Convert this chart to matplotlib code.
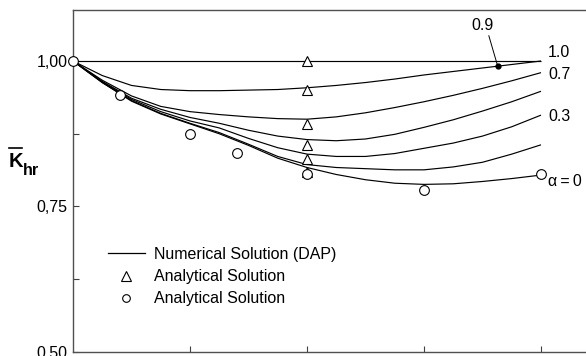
import numpy as np
import matplotlib
matplotlib.use("Agg")
import matplotlib.pyplot as plt
from matplotlib.lines import Line2D

plt.rcParams['font.family'] = ['Liberation Sans', 'DejaVu Sans']
plt.rcParams['font.size'] = 11.5

# Numerical solution (DAP): normalised K_hr along the abscissa for each alpha
x = [0.0, 0.25, 0.5, 0.75, 1.0, 1.25, 1.5, 1.75, 2.0,
     2.25, 2.5, 2.75, 3.0, 3.25, 3.5, 3.75, 4.0]
k_a10 = [1.000] * 17
k_a09 = [1.000, 0.975, 0.958, 0.951, 0.949, 0.949, 0.950, 0.951, 0.954,
         0.958, 0.963, 0.969, 0.976, 0.982, 0.988, 0.994, 1.000]
k_a07 = [1.000, 0.967, 0.940, 0.922, 0.913, 0.908, 0.904, 0.901, 0.900,
         0.904, 0.911, 0.920, 0.930, 0.941, 0.953, 0.966, 0.980]
k_a05 = [1.000, 0.965, 0.936, 0.917, 0.903, 0.893, 0.881, 0.871, 0.865,
         0.863, 0.866, 0.874, 0.886, 0.899, 0.914, 0.930, 0.948]
k_a03 = [1.000, 0.964, 0.934, 0.913, 0.897, 0.885, 0.867, 0.851, 0.840,
         0.836, 0.836, 0.841, 0.850, 0.859, 0.871, 0.887, 0.907]
k_a01 = [1.000, 0.963, 0.932, 0.910, 0.893, 0.877, 0.857, 0.836, 0.822,
         0.817, 0.815, 0.813, 0.813, 0.818, 0.826, 0.840, 0.856]
k_a00 = [1.000, 0.963, 0.931, 0.909, 0.892, 0.875, 0.855, 0.833, 0.817,
         0.805, 0.796, 0.790, 0.788, 0.789, 0.793, 0.798, 0.804]

# Analytical solution (triangles) at x = 2 for alpha = 1.0, 0.9, 0.7, 0.5, 0.3, 0.1
tri_x = [2.0, 2.0, 2.0, 2.0, 2.0, 2.0]
tri_k = [1.000, 0.950, 0.891, 0.856, 0.831, 0.810]

# Analytical solution (circles) for alpha = 0
circ_x = [0.0, 0.4, 1.0, 1.4, 2.0, 3.0, 4.0]
circ_k = [1.000, 0.942, 0.875, 0.842, 0.805, 0.779, 0.805]

ytick_vals = [0.50, 0.75, 1.00]
ytick_labels = ["0,50", "0,75", "1,00"]
yminor_vals = [0.625, 0.875]
xtick_vals = [1, 2, 3, 4]

W, H = 586, 356
fig = plt.figure(figsize=(W / 100, H / 100), dpi=100)
ax = fig.add_axes([73 / W, 4 / H, (W - 73) / W, (352 - 10) / H])

curves = [k_a10, k_a09, k_a07, k_a05, k_a03, k_a01, k_a00]
for k in curves:
    ax.plot(x, k, color='black', lw=0.85, zorder=2, solid_capstyle='butt')

ax.plot(tri_x, tri_k, linestyle='none', marker='^', ms=7, mfc='white',
        mec='black', mew=0.8, zorder=4, clip_on=False)
ax.plot(circ_x, circ_k, linestyle='none', marker='o', ms=7, mfc='white',
        mec='black', mew=0.8, zorder=4, clip_on=False)

ax.set_xlim(0, (W - 73) / 117)
ax.set_ylim(0.5, 1 + 51 / 582)

ax.set_xticks(xtick_vals)
ax.set_xticklabels([])
ax.set_yticks(ytick_vals)
ax.set_yticklabels(ytick_labels)
ax.set_yticks(yminor_vals, minor=True)
ax.tick_params(axis='both', which='both', direction='in', length=4,
               width=0.8, color='#404040', pad=4)
ax.spines['right'].set_visible(False)
for s in ['left', 'bottom', 'top']:
    ax.spines[s].set_color('#505050')
    ax.spines[s].set_linewidth(1.0)

# Curve labels at the right-hand end
end_labels = [("1.0", k_a10, 5, 6), ("0.7", k_a07, 5, -1.5),
              ("0.3", k_a03, 5, -0.7), ("α\u2009=\u20090", k_a00, 5, -4.5)]
for txt, k, dx, dy in end_labels:
    ax.annotate(txt, xy=(x[-1], k[-1]), xytext=(dx, dy),
                textcoords='offset points', ha='left', va='center',
                annotation_clip=False)

# Alpha = 0.9 marked with a dot and a leader line
dot_x = 3.63
dot_k = float(np.interp(dot_x, x, k_a09))
ax.plot([dot_x], [dot_k], marker='o', ms=3.5, color='black', zorder=5)
ax.annotate("0.9", xy=(dot_x, dot_k), xytext=(-11, 24),
            textcoords='offset points', ha='center', va='bottom',
            arrowprops=dict(arrowstyle='-', color='black', lw=0.7,
                            shrinkA=0, shrinkB=0, relpos=(0.75, 0.0)))

# Legend
handles = [Line2D([], [], color='black', lw=0.9),
           Line2D([], [], linestyle='none', marker='^', ms=6.5, mfc='white',
                  mec='black', mew=0.8),
           Line2D([], [], linestyle='none', marker='o', ms=5.5, mfc='white',
                  mec='black', mew=0.8)]
labels = ["Numerical Solution (DAP)", "Analytical Solution",
          "Analytical Solution"]
ax.legend(handles, labels, loc='upper left',
          bbox_to_anchor=((108 - 73) / (W - 73), (352 - 247) / 342),
          frameon=False, borderpad=0, handlelength=2.3, handletextpad=0.55,
          labelspacing=0.45, borderaxespad=0)

# Y-axis symbol: K with an overbar and subscript hr
fig.text(9 / W, 1 - 167 / H, "K", fontsize=14.5, fontweight='bold',
         ha='left', va='baseline')
fig.text(23 / W, 1 - 175 / H, "hr", fontsize=11.7, fontweight='bold',
         ha='left', va='baseline')
fig.add_artist(Line2D([9 / W, 22 / W], [1 - 148 / H, 1 - 148 / H],
                      color='black', lw=1.2, transform=fig.transFigure))

fig.savefig("out.png", dpi=100)
